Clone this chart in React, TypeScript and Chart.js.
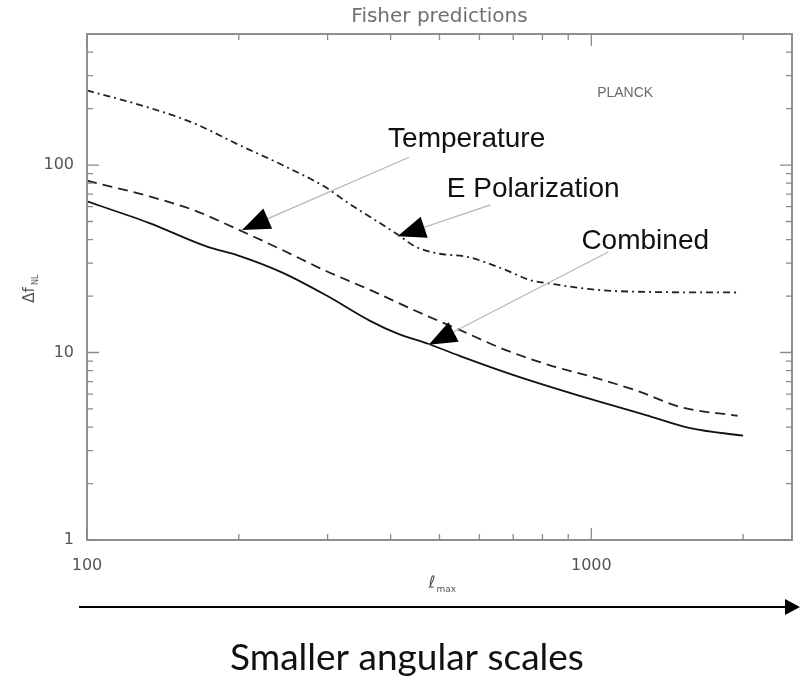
import React, { useEffect, useRef } from 'react';
import { Chart, registerables } from 'chart.js';

Chart.register(...registerables);

// ---- data ----
const combinedEll = [100, 133, 173, 199, 244, 298, 365, 413, 476, 548, 699, 1006, 1283, 1571, 2000];
const combinedVals = [64, 49, 36.7, 33, 26.7, 20.2, 14.7, 12.6, 11.1, 9.6, 7.6, 5.6, 4.64, 3.95, 3.6];

const temperatureEll = [100, 133, 163, 199, 244, 298, 365, 448, 548, 671, 822, 1006, 1233, 1510, 1950];
const temperatureVals = [82.5, 68, 57.4, 45.4, 35.2, 27.2, 21.5, 16.7, 13.2, 10.4, 8.6, 7.4, 6.25, 5.1, 4.6];

const polarizationEll = [100, 133, 163, 199, 244, 298, 330, 365, 413, 448, 495, 570, 671, 758, 822, 1006, 1233, 1950];
const polarizationVals = [250, 202, 167, 129, 100, 75.8, 62.5, 52.7, 42.6, 36.7, 33.8, 32.3, 27.8, 24.3, 23.4, 21.7, 21.1, 20.9];

const xTickLabels = [100, 1000];
const yTickLabels = [1, 10, 100];
const xMinorTicks = [200, 300, 400, 500, 600, 700, 800, 900, 2000];
const yMinorTicks = [2, 3, 4, 5, 6, 7, 8, 9, 20, 30, 40, 50, 60, 70, 80, 90, 200, 300, 400];

const chartTitle = 'Fisher predictions';
const experimentLabel = 'PLANCK';
const experimentAt = [1167, 241];

const annotationLabels = ['Temperature', 'E Polarization', 'Combined'];
const annotationTextAt = [[566, 137], [767, 74.5], [1279, 39.4]];
const annotationLineFrom = [[435, 110], [631, 61.3], [1080, 34.4]];
const annotationArrowTip = [[203, 45.1], [413, 41.7], [476, 11.0]];

const bottomCaption = 'Smaller angular scales';

function same(a: number, b: number) {
  return Math.abs(a - b) < 1e-6 * b;
}

const idlPlugin = {
  id: 'idlDecor',
  afterDraw(chart: any) {
    const ctx: CanvasRenderingContext2D = chart.ctx;
    const { left, right, top, bottom } = chart.chartArea;
    const xs = chart.scales.x;
    const ys = chart.scales.y;
    ctx.save();

    // frame
    ctx.strokeStyle = '#8f8f8f';
    ctx.lineWidth = 2;
    ctx.strokeRect(left, top, right - left, bottom - top);

    // ticks
    ctx.lineWidth = 1.3;
    ctx.strokeStyle = '#8a8a8a';
    const xt = (v: number, len: number) => {
      const px = xs.getPixelForValue(v);
      ctx.beginPath();
      ctx.moveTo(px, bottom);
      ctx.lineTo(px, bottom - len);
      ctx.moveTo(px, top);
      ctx.lineTo(px, top + len);
      ctx.stroke();
    };
    const yt = (v: number, len: number) => {
      const py = ys.getPixelForValue(v);
      ctx.beginPath();
      ctx.moveTo(left, py);
      ctx.lineTo(left + len, py);
      ctx.moveTo(right, py);
      ctx.lineTo(right - len, py);
      ctx.stroke();
    };
    xTickLabels.forEach((v) => xt(v, 12));
    xMinorTicks.forEach((v) => xt(v, 6));
    yTickLabels.forEach((v) => yt(v, 12));
    yMinorTicks.forEach((v) => yt(v, 6));

    const cx = (left + right) / 2;

    // title
    ctx.fillStyle = '#707070';
    ctx.font = '20px "DejaVu Sans"';
    ctx.textAlign = 'center';
    ctx.textBaseline = 'middle';
    ctx.fillText(chartTitle, cx, 17);

    // x axis title: l_max
    ctx.fillStyle = '#555';
    ctx.font = 'italic 17px "DejaVu Sans"';
    ctx.textAlign = 'right';
    ctx.textBaseline = 'alphabetic';
    ctx.fillText('\u2113', cx - 4, 588);
    ctx.font = '9px "DejaVu Sans"';
    ctx.textAlign = 'left';
    ctx.fillText('max', cx - 3, 592);

    // y axis title: Δf_NL rotated
    ctx.save();
    ctx.translate(34, 292);
    ctx.rotate(-Math.PI / 2);
    ctx.font = '15px "DejaVu Sans"';
    ctx.textAlign = 'center';
    ctx.textBaseline = 'alphabetic';
    ctx.fillStyle = '#555';
    ctx.fillText('\u0394f', -3, 0);
    ctx.font = '8px "DejaVu Sans"';
    ctx.textAlign = 'left';
    ctx.fillText('NL', 7, 4);
    ctx.restore();

    // PLANCK
    ctx.fillStyle = '#6a6a6a';
    ctx.font = '14px "Liberation Sans"';
    ctx.textAlign = 'center';
    ctx.textBaseline = 'middle';
    ctx.fillText(experimentLabel, xs.getPixelForValue(experimentAt[0]), ys.getPixelForValue(experimentAt[1]));

    // annotations
    annotationLabels.forEach((label, i) => {
      const tx = xs.getPixelForValue(annotationTextAt[i][0]);
      const ty = ys.getPixelForValue(annotationTextAt[i][1]);
      ctx.fillStyle = '#111';
      ctx.font = '28px "Liberation Sans"';
      ctx.textAlign = 'center';
      ctx.textBaseline = 'middle';
      ctx.fillText(label, tx, ty);

      const fx = xs.getPixelForValue(annotationLineFrom[i][0]);
      const fy = ys.getPixelForValue(annotationLineFrom[i][1]);
      const px = xs.getPixelForValue(annotationArrowTip[i][0]);
      const py = ys.getPixelForValue(annotationArrowTip[i][1]);
      ctx.strokeStyle = '#b5b5b5';
      ctx.lineWidth = 1.2;
      ctx.beginPath();
      ctx.moveTo(fx, fy);
      ctx.lineTo(px, py);
      ctx.stroke();
      const ang = Math.atan2(py - fy, px - fx);
      const L = 28;
      const W = 11;
      const bx = px - L * Math.cos(ang);
      const by = py - L * Math.sin(ang);
      ctx.fillStyle = '#000';
      ctx.beginPath();
      ctx.moveTo(px, py);
      ctx.lineTo(bx - W * Math.sin(ang), by + W * Math.cos(ang));
      ctx.lineTo(bx + W * Math.sin(ang), by - W * Math.cos(ang));
      ctx.closePath();
      ctx.fill();
    });

    // bottom arrow
    const ay = 607;
    ctx.strokeStyle = '#000';
    ctx.lineWidth = 2;
    ctx.beginPath();
    ctx.moveTo(79, ay);
    ctx.lineTo(788, ay);
    ctx.stroke();
    ctx.fillStyle = '#000';
    ctx.beginPath();
    ctx.moveTo(800, ay);
    ctx.lineTo(785, ay - 8);
    ctx.lineTo(785, ay + 8);
    ctx.closePath();
    ctx.fill();

    // caption
    ctx.fillStyle = '#111';
    ctx.font = '37px Lato';
    ctx.textAlign = 'center';
    ctx.textBaseline = 'alphabetic';
    ctx.fillText(bottomCaption, 407, 670);

    ctx.restore();
  },
};

const pts = (xs: number[], ys: number[]) => xs.map((x, i) => ({ x, y: ys[i] }));

export default function App() {
  const ref = useRef<HTMLCanvasElement | null>(null);
  useEffect(() => {
    document.body.style.margin = '0';
    const canvas = ref.current;
    if (!canvas) return;
    const tickFont = { family: '"DejaVu Sans"', size: 16 };
    const chart = new Chart(canvas, {
      type: 'line',
      data: {
        datasets: [
          {
            label: 'Combined',
            data: pts(combinedEll, combinedVals),
            borderColor: '#111',
            borderWidth: 1.8,
            pointRadius: 0,
            cubicInterpolationMode: 'monotone',
            fill: false,
          },
          {
            label: 'Temperature',
            data: pts(temperatureEll, temperatureVals),
            borderColor: '#222',
            borderWidth: 1.8,
            borderDash: [10, 6],
            pointRadius: 0,
            cubicInterpolationMode: 'monotone',
            fill: false,
          },
          {
            label: 'E Polarization',
            data: pts(polarizationEll, polarizationVals),
            borderColor: '#222',
            borderWidth: 1.8,
            borderDash: [7, 4, 2, 4],
            pointRadius: 0,
            cubicInterpolationMode: 'monotone',
            fill: false,
          },
        ],
      },
      options: {
        responsive: false,
        animation: false,
        devicePixelRatio: 1,
        layout: { padding: { top: 34, right: 5, left: 0, bottom: 0 } },
        plugins: {
          legend: { display: false },
          title: { display: false },
          tooltip: { enabled: false },
        },
        scales: {
          x: {
            type: 'logarithmic',
            min: 100,
            max: 2500,
            grid: { display: false },
            border: { display: false },
            ticks: {
              autoSkip: false,
              maxRotation: 0,
              padding: 8,
              color: '#555',
              font: tickFont,
              callback: (v: any) => (xTickLabels.some((t) => same(Number(v), t)) ? String(v) : ''),
            },
            afterFit: (s: any) => {
              s.height = 139;
            },
          },
          y: {
            type: 'logarithmic',
            min: 1,
            max: 500,
            grid: { display: false },
            border: { display: false },
            ticks: {
              autoSkip: false,
              padding: 5,
              color: '#555',
              font: tickFont,
              callback: (v: any) => (yTickLabels.some((t) => same(Number(v), t)) ? String(v) : ''),
            },
            afterFit: (s: any) => {
              s.width = 87;
            },
          },
        },
      },
      plugins: [idlPlugin],
    } as any);
    return () => chart.destroy();
  }, []);
  return <canvas ref={ref} width={800} height={679} style={{ display: 'block' }} />;
}
